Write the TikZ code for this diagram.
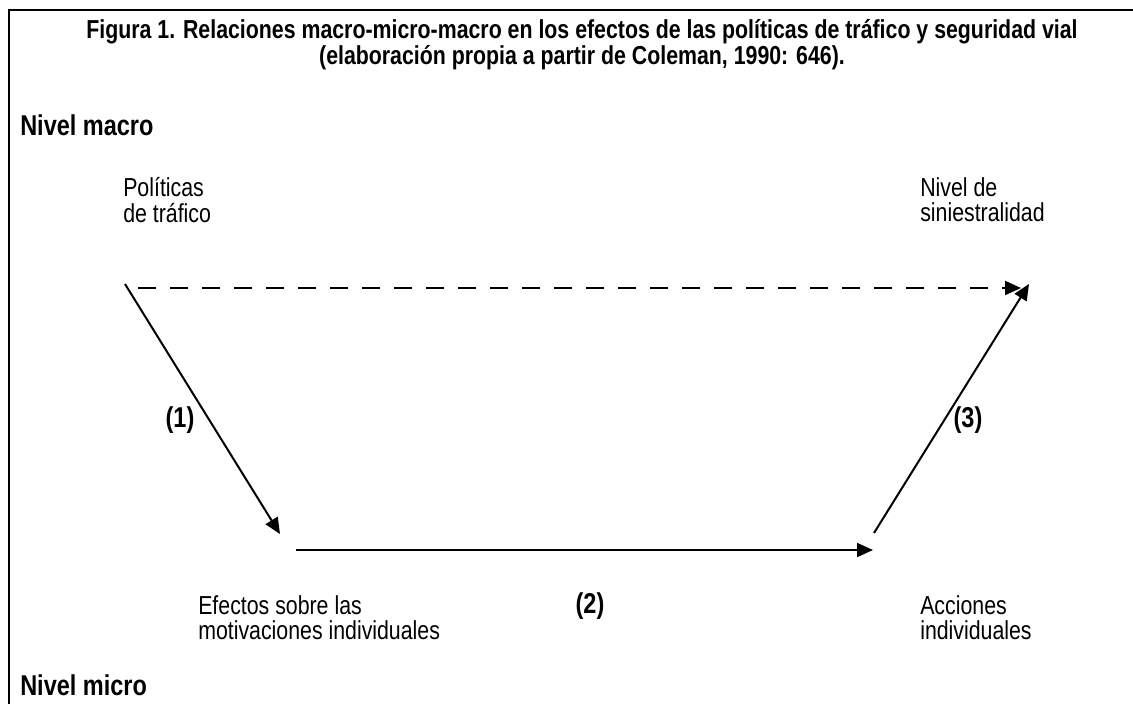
\documentclass[tikz,border=0pt]{standalone}
\usepackage{fontspec}
\setmainfont{Liberation Sans}[FakeStretch=0.82]
\usetikzlibrary{arrows.meta}
\tikzset{
  txt/.style={anchor=west, align=left, inner sep=0pt, font=\fontsize{19.5pt}{19pt}\selectfont},
  lbl/.style={inner sep=0pt, font=\bfseries\fontsize{21.5pt}{21pt}\selectfont},
  arr/.style={line width=1.5pt, -{Triangle[length=12pt, width=10.5pt]}},
}
\begin{document}
\begin{tikzpicture}[x=0.75pt, y=-0.75pt]
            \useasboundingbox (0,0) rectangle (1133,704);
            \draw[line width=1.6pt] (9,720) -- (9,10) -- (1150,10);

            \node[lbl, align=center, font=\bfseries\fontsize{19.5pt}{17.5pt}\selectfont] (title) at (582,45) {Figura 1. Relaciones macro-micro-macro en los efectos de las políticas de tráfico y seguridad vial\\(elaboración propia a partir de Coleman, 1990: 646).};
            \node[lbl, anchor=west] (macro) at (20,125) {Nivel macro};
            \node[lbl, anchor=west] (micro) at (20,685) {Nivel micro};

            \node[txt] (pol) at (123,200) {Políticas\\de tráfico};
            \node[txt] (sin) at (920,200) {Nivel de\\siniestralidad};
            \node[txt] (efe) at (198,618) {Efectos sobre las\\motivaciones individuales};
            \node[txt] (acc) at (920,618) {Acciones\\individuales};

            \coordinate (a) at (125,284);
            \coordinate (b) at (280,534);
            \coordinate (c) at (296,550);
            \coordinate (d) at (873,550);
            \coordinate (e) at (874,533);
            \coordinate (f) at (1029,284);
            \coordinate (g) at (138,288);
            \coordinate (h) at (1021,288);

            \draw[arr] (a) -- (b);
            \draw[arr] (c) -- (d);
            \draw[arr] (e) -- (f);
            \draw[arr, dash pattern=on 13.5pt off 10.5pt] (g) -- (h);

            \node[lbl] (one) at (180,420) {(1)};
            \node[lbl] (two) at (590,606) {(2)};
            \node[lbl] (three) at (968,420) {(3)};
\end{tikzpicture}
\end{document}
